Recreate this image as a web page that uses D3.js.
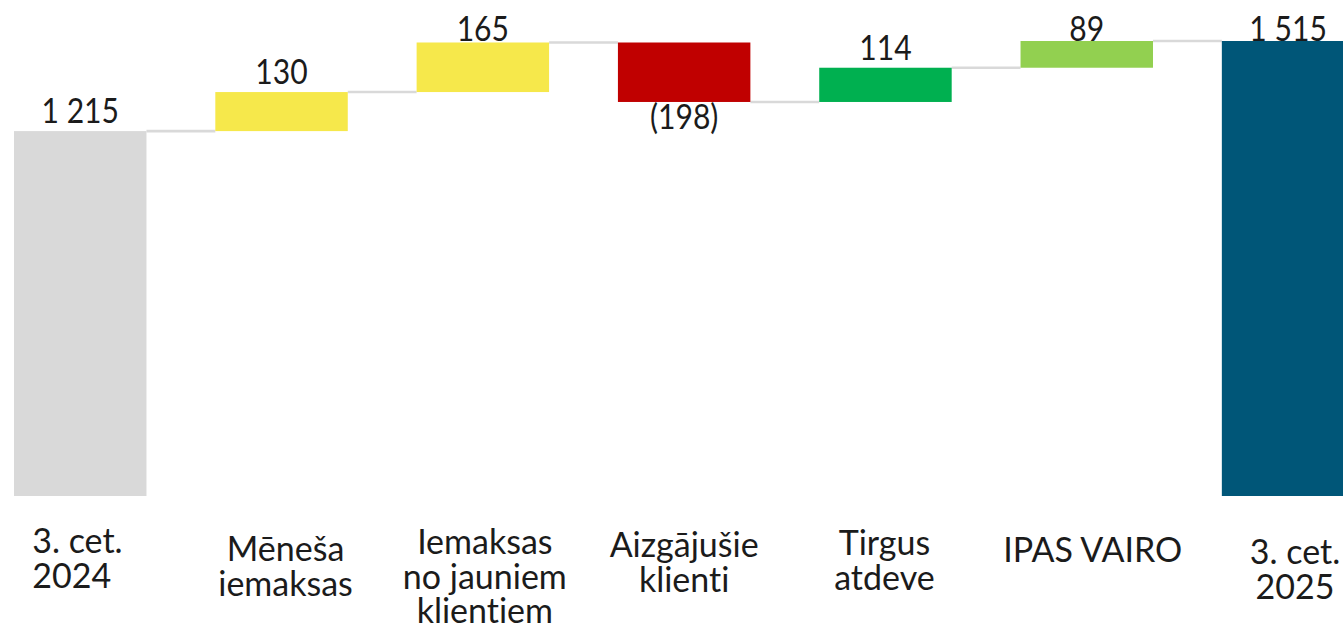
<!DOCTYPE html>
<html>
<head>
<meta charset="utf-8">
<script src="https://cdn.jsdelivr.net/npm/d3@7"></script>
<style>
  html, body { margin: 0; padding: 0; background: #ffffff; }
  svg { display: block; }
  text { font-family: Lato, "Open Sans", sans-serif; fill: #1b1b1b; font-variant-ligatures: none; font-feature-settings: "liga" 0; }
</style>
</head>
<body>
<svg id="chart" width="1343" height="629"></svg>
<script>
// ---- data ----
const categories = ["3. cet.\n2024", "Mēneša\niemaksas", "Iemaksas\nno jauniem\nklientiem", "Aizgājušie\nklienti", "Tirgus\natdeve", "IPAS VAIRO", "3. cet.\n2025"];
const values = [1215, 130, 165, -198, 114, 89, 1515];
const kinds = ["total", "delta", "delta", "delta", "delta", "delta", "total"];
const valueLabels = ["1 215", "130", "165", "(198)", "114", "89", "1 515"];

// ---- style / layout (not data) ----
const colors = ["#d9d9d9", "#f6e84b", "#f6e84b", "#c00000", "#00b050", "#92d050", "#005678"];
const catLabelLayout = [
  { dx: -48, anchor: "start", y: 553 },
  { dx: 4, anchor: "middle", y: 561 },
  { dx: 2, anchor: "middle", y: 554 },
  { dx: 0, anchor: "middle", y: 557 },
  { dx: -1, anchor: "middle", y: 555 },
  { dx: 6, anchor: "middle", y: 562 },
  { dx: 7, anchor: "middle", y: 564 }
];

const svg = d3.select("#chart");

const x = d3.scaleBand()
  .domain(categories)
  .range([14, 1354.3])
  .paddingInner(0.342)
  .paddingOuter(0)
  .align(0);

const y = d3.scaleLinear()
  .domain([0, 1515])
  .range([496, 41]);

// compute waterfall segments
let running = 0;
const segs = categories.map((c, i) => {
  let lo, hi, end;
  if (kinds[i] === "total") {
    lo = 0; hi = values[i]; end = values[i];
  } else {
    const start = running;
    end = running + values[i];
    lo = Math.min(start, end); hi = Math.max(start, end);
  }
  running = end;
  return { cat: c, i, lo, hi, end, v: values[i], label: valueLabels[i] };
});

// connectors
const conn = svg.append("g");
segs.slice(0, -1).forEach((s, i) => {
  const nx = segs[i + 1];
  conn.append("line")
    .attr("x1", x(s.cat) + x.bandwidth())
    .attr("x2", x(nx.cat))
    .attr("y1", y(s.end))
    .attr("y2", y(s.end))
    .attr("stroke", "#d9d9d9")
    .attr("stroke-width", 2.6);
});

// bars
svg.append("g").selectAll("rect")
  .data(segs)
  .join("rect")
  .attr("x", d => x(d.cat))
  .attr("width", x.bandwidth())
  .attr("y", d => y(d.hi))
  .attr("height", d => y(d.lo) - y(d.hi))
  .attr("fill", (d, i) => colors[i]);

// value labels
svg.append("g").selectAll("text")
  .data(segs)
  .join("text")
  .attr("transform", d => {
    const cx = x(d.cat) + x.bandwidth() / 2;
    const by = d.v < 0 ? y(d.lo) + 27.5 : Math.max(y(d.hi) - 8, 40.5);
    return `translate(${cx},${by}) scale(0.86,1)`;
  })
  .attr("text-anchor", "middle")
  .style("font-size", "35px")
  .text(d => d.label);

// category labels
const cl = svg.append("g").selectAll("text")
  .data(segs)
  .join("text")
  .attr("text-anchor", (d, i) => catLabelLayout[i].anchor)
  .attr("x", (d, i) => x(d.cat) + x.bandwidth() / 2 + catLabelLayout[i].dx)
  .attr("y", (d, i) => catLabelLayout[i].y)
  .style("font-size", "34px");

cl.each(function(d, i) {
  const t = d3.select(this);
  const cx = x(d.cat) + x.bandwidth() / 2 + catLabelLayout[i].dx;
  d.cat.split("\n").forEach((line, k) => {
    t.append("tspan")
      .attr("x", cx)
      .attr("dy", k === 0 ? 0 : 34.5)
      .text(line);
  });
});
</script>
</body>
</html>
